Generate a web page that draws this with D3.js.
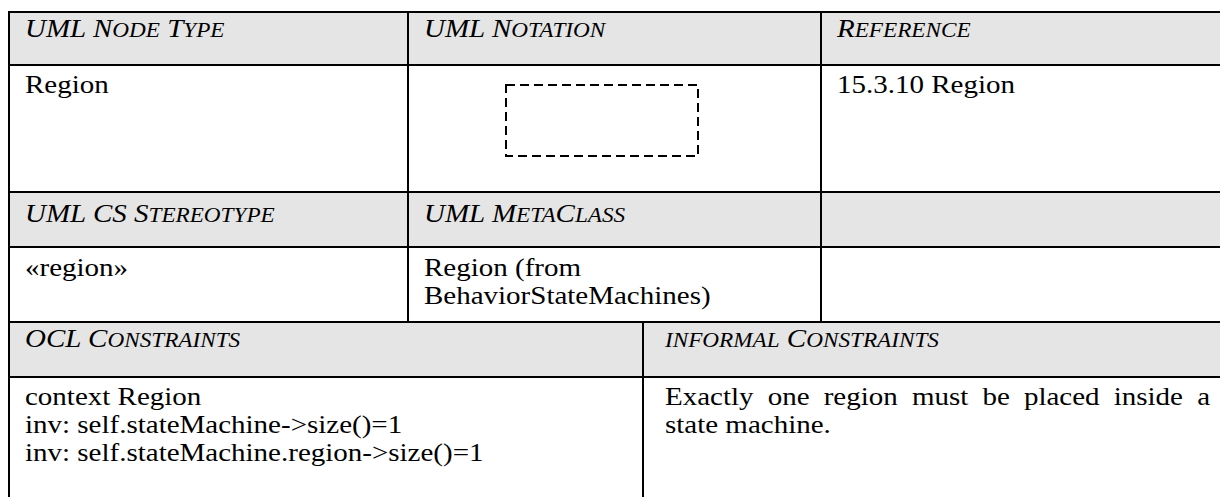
<!DOCTYPE html>
<html><head><meta charset="utf-8">
<script src="https://cdn.jsdelivr.net/npm/d3@7"></script>
<style>html,body{margin:0;padding:0;background:#fff;}svg{display:block;}</style>
</head><body>
<svg id="c" width="1220" height="497"></svg>
<script>
// ---- content ----
const headerRow1 = ["UML Node Type", "UML Notation", "Reference"];
const bodyRow1 = [["Region"], [], ["15.3.10 Region"]];
const headerRow2 = ["UML CS Stereotype", "UML MetaClass", ""];
const bodyRow2 = [["«region»"], ["Region (from", "BehaviorStateMachines)"], []];
const headerRow3 = ["OCL Constraints", "informal Constraints"];
const bodyRow3 = [
  ["context Region", "inv: self.stateMachine->size()=1", "inv: self.stateMachine.region->size()=1"],
  ["Exactly one region must be placed inside a", "state machine."]
];
const justifiedLines = ["Exactly one region must be placed inside a"];

// ---- layout ----
const W = 1220, H = 497;
const left = 9, right = 1222;
const rowLines = [12, 65, 192, 247, 322, 377];
const colsTop = [9, 408, 821];      // rows 1-4
const colsBottom = [9, 643];        // rows 5-6
const fontSize = 25, sx = 1.16, lineGap = 28, scRatio = 0.8;
const padX = 16;
const headerFill = "#e5e5e5";

const svg = d3.select("#c");

// header fills
[[rowLines[0], rowLines[1]], [rowLines[2], rowLines[3]], [rowLines[4], rowLines[5]]].forEach(([a, b]) => {
  svg.append("rect").attr("x", left).attr("y", a).attr("width", right - left).attr("height", b - a).attr("fill", headerFill);
});

// text helpers
function smallCaps(g, str) {
  const t = g.append("text").attr("font-family", "'Liberation Serif', 'Times New Roman', serif")
    .attr("font-style", "italic").attr("font-size", fontSize).attr("fill", "#000");
  // group runs
  let runs = [];
  for (const ch of str) {
    const small = ch !== ch.toUpperCase();
    if (runs.length && runs[runs.length - 1].small === small) runs[runs.length - 1].s += ch;
    else runs.push({small, s: ch});
  }
  runs.forEach(r => {
    t.append("tspan").attr("font-size", r.small ? fontSize * scRatio : fontSize).text(r.s.toUpperCase());
  });
  return t;
}
function textAt(x, y, str, header) {
  const g = svg.append("g").attr("transform", `translate(${x},${y}) scale(${sx},1)`);
  if (header) return smallCaps(g, str);
  return g.append("text").attr("font-family", "'Liberation Serif', 'Times New Roman', serif")
    .attr("font-size", fontSize).attr("fill", "#000").text(str);
}

// headers
const hBase = [37, 222, 347];
headerRow1.forEach((s, i) => s && textAt(colsTop[i] + padX, hBase[0], s, true));
headerRow2.forEach((s, i) => s && textAt(colsTop[i] + padX, hBase[1], s, true));
headerRow3.forEach((s, i) => s && textAt(colsBottom[i] + (i ? 22 : padX), hBase[2], s, true));

// bodies
const bBase = [93, 276, 405];
bodyRow1.forEach((lines, i) => lines.forEach((s, k) => textAt(colsTop[i] + padX, bBase[0] + k * lineGap, s)));
bodyRow2.forEach((lines, i) => lines.forEach((s, k) => textAt(colsTop[i] + padX, bBase[1] + k * lineGap, s)));
bodyRow3.forEach((lines, i) => lines.forEach((s, k) => {
  const x0 = colsBottom[i] + (i ? 22 : padX);
  const t = textAt(x0, bBase[2] + k * lineGap, s);
  if (justifiedLines.includes(s)) {
    const target = (1210 - x0) / sx;
    const nat = t.node().getComputedTextLength();
    const spaces = s.split(" ").length - 1;
    t.attr("word-spacing", (target - nat) / spaces);
  }
}));

// notation: dashed region box
svg.append("rect").attr("x", 506).attr("y", 85).attr("width", 192).attr("height", 71)
  .attr("fill", "none").attr("stroke", "#000").attr("stroke-width", 2).attr("stroke-dasharray", "9,5");

// grid lines
const lw = 2;
rowLines.forEach(y => svg.append("line").attr("x1", left - 1).attr("x2", right).attr("y1", y).attr("y2", y)
  .attr("stroke", "#000").attr("stroke-width", lw));
colsTop.forEach(x => svg.append("line").attr("x1", x).attr("x2", x).attr("y1", rowLines[0] - 1).attr("y2", rowLines[4])
  .attr("stroke", "#000").attr("stroke-width", lw));
colsBottom.forEach(x => svg.append("line").attr("x1", x).attr("x2", x).attr("y1", rowLines[4]).attr("y2", H)
  .attr("stroke", "#000").attr("stroke-width", lw));
</script>
</body></html>
